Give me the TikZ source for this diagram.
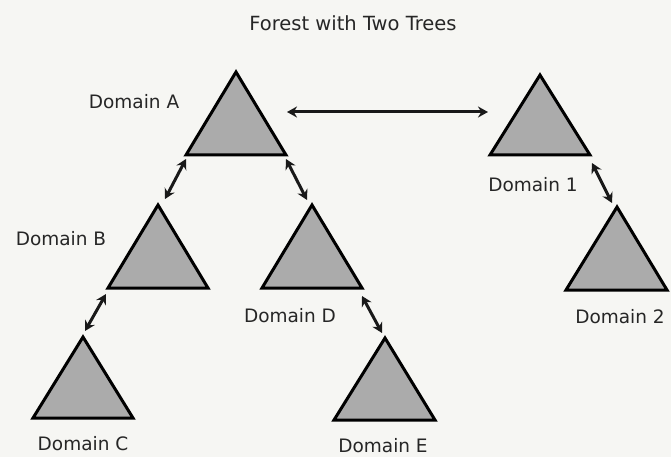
\documentclass[tikz,border=0pt]{standalone}
\usepackage{fontspec}
\setmainfont{DejaVu Sans}
\usetikzlibrary{arrows.meta}
\definecolor{bgc}{HTML}{F6F6F3}
\definecolor{trifill}{HTML}{ABABAB}
\definecolor{txt}{HTML}{262626}
\tikzset{
  tri/.style={draw=black, fill=trifill, line width=3pt, line join=miter},
  link/.style={line width=3pt, draw=black!90, {Stealth[length=10pt,width=11pt]}-{Stealth[length=10pt,width=11pt]}},
  lbl/.style={font=\fontsize{18.5}{20}\selectfont, text=txt, inner sep=0pt},
}
\begin{document}
\begin{tikzpicture}[x=1pt,y=-1pt]
\fill[bgc] (0,0) rectangle (671,457);
\useasboundingbox (0,0) rectangle (671,457);
% title
\node[lbl, font=\fontsize{19.5}{21}\selectfont] (title) at (353,23) {Forest with Two Trees};
% triangles
\draw[tri] (236,72) -- (286,155) -- (186,155) -- cycle;
\draw[tri] (540,75) -- (590,155) -- (490,155) -- cycle;
\draw[tri] (617,207) -- (667,290) -- (566,290) -- cycle;
\draw[tri] (158,205) -- (208,288) -- (108,288) -- cycle;
\draw[tri] (312,205) -- (362,288) -- (262,288) -- cycle;
\draw[tri] (83,337) -- (133,418) -- (33,418) -- cycle;
\draw[tri] (385,338) -- (435,420) -- (334,420) -- cycle;
% labels
\node[lbl] (lA) at (134,102) {Domain A};
\node[lbl] (lB) at (61,239) {Domain B};
\node[lbl] (lC) at (83,444) {Domain C};
\node[lbl] (lD) at (290,316) {Domain D};
\node[lbl] (lE) at (383,446) {Domain E};
\node[lbl] (l1) at (533,185) {Domain 1};
\node[lbl] (l2) at (620,317) {Domain 2};
% arrow end points
\coordinate (a1s) at (287,112); \coordinate (a1e) at (488,112);
\coordinate (abs) at (186,159); \coordinate (abe) at (165,199);
\coordinate (ads) at (286,159); \coordinate (ade) at (307,200);
\coordinate (bcs) at (106,294); \coordinate (bce) at (85,331);
\coordinate (des) at (362,296); \coordinate (dee) at (382,333);
\coordinate (o2s) at (592,163); \coordinate (o2e) at (612,203);
\draw[link] (a1s) -- (a1e);
\draw[link] (abs) -- (abe);
\draw[link] (ads) -- (ade);
\draw[link] (bcs) -- (bce);
\draw[link] (des) -- (dee);
\draw[link] (o2s) -- (o2e);
\end{tikzpicture}
\end{document}
